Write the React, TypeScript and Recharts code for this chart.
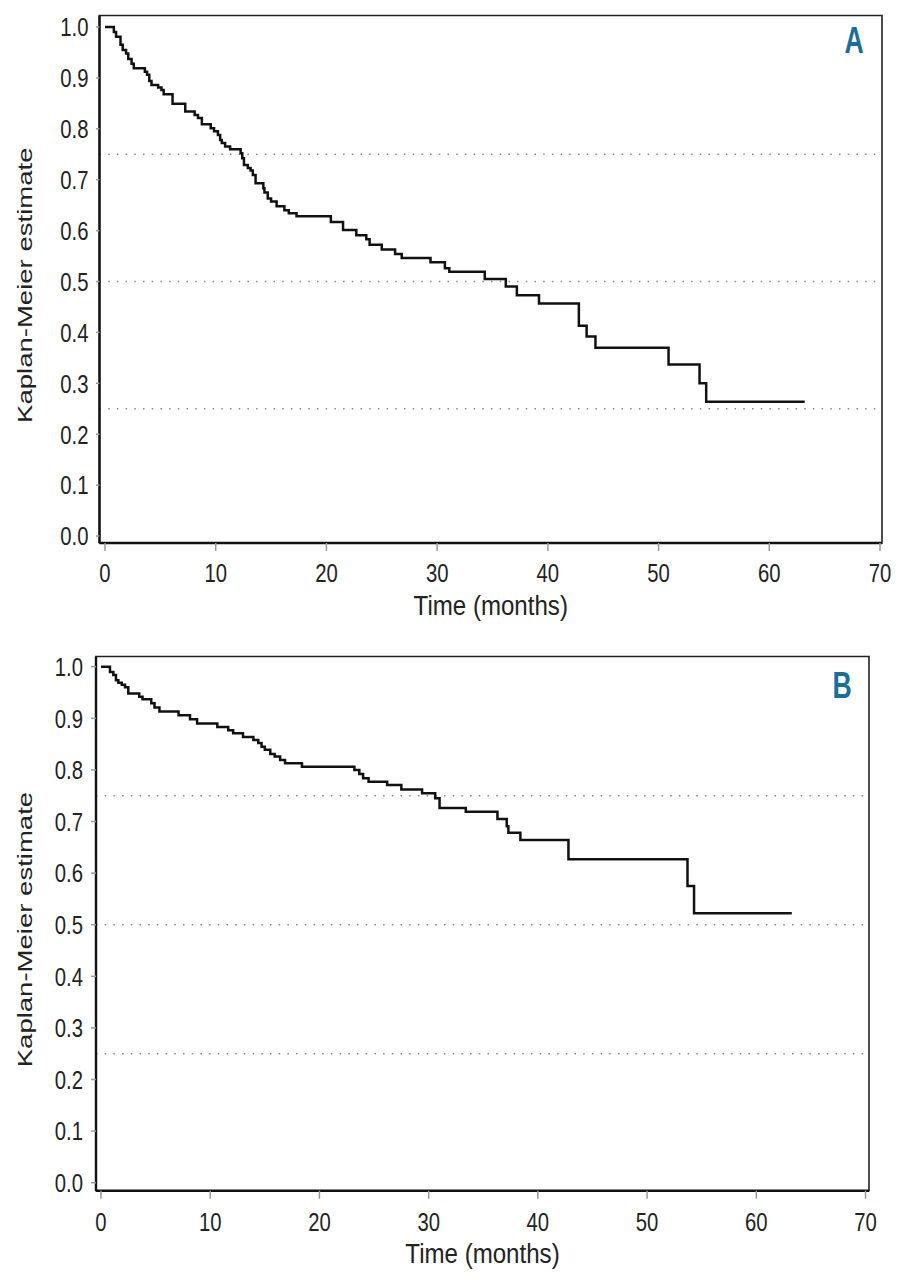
import React from "react";
import {
  LineChart,
  Line,
  XAxis,
  YAxis,
  ReferenceLine,
  ReferenceArea,
} from "recharts";

// ---------- data ----------
const timesA = [
  0, 0.8, 1.0, 1.4, 1.6, 1.9, 2.1, 2.4, 2.6, 3.6, 3.8, 4.0, 4.2, 4.8, 5.1, 5.3,
  6.1, 7.25, 8.1, 8.4, 8.75, 9.55, 9.85, 10.2, 10.4, 10.55, 10.85, 11.3, 12.25,
  12.4, 12.55, 12.9, 13.15, 13.35, 13.6, 14.3, 14.4, 14.7, 15.0, 15.5, 16.2,
  16.6, 17.3, 20.4, 21.5, 22.7, 23.6, 23.9, 25.0, 26.2, 26.8, 29.4, 30.7, 31.1,
  34.3, 36.2, 37.2, 39.2, 42.8, 43.5, 44.3, 50.9, 53.7, 54.3, 63.2,
];
const survA = [
  1.0, 0.99, 0.981, 0.965, 0.955, 0.948, 0.937, 0.928, 0.919, 0.912, 0.906,
  0.894, 0.886, 0.881, 0.876, 0.868, 0.849, 0.834, 0.827, 0.821, 0.809, 0.801,
  0.795, 0.788, 0.778, 0.772, 0.765, 0.76, 0.752, 0.742, 0.729, 0.723, 0.718,
  0.709, 0.693, 0.683, 0.675, 0.663, 0.657, 0.648, 0.64, 0.634, 0.628, 0.617,
  0.601, 0.591, 0.583, 0.572, 0.563, 0.554, 0.546, 0.538, 0.526, 0.519, 0.505,
  0.49, 0.473, 0.457, 0.413, 0.392, 0.37, 0.337, 0.3, 0.264, 0.264,
];

const timesB = [
  0, 0.82, 1.13, 1.37, 1.59, 1.9, 2.2, 2.5, 3.5, 3.8, 4.6, 4.9, 5.35, 7.1, 8.15,
  8.8, 10.65, 11.65, 12.1, 13.0, 13.95, 14.4, 14.7, 15.0, 15.5, 15.9, 16.4,
  16.85, 18.4, 23.2, 23.65, 24.0, 24.5, 26.2, 27.5, 29.4, 30.6, 31.0, 33.4,
  36.3, 37.15, 37.3, 38.4, 42.8, 53.7, 54.3, 63.25,
];
const survB = [
  1.0, 0.99, 0.984, 0.974, 0.969, 0.965, 0.96, 0.948, 0.942, 0.937, 0.929,
  0.921, 0.913, 0.906, 0.898, 0.89, 0.883, 0.877, 0.871, 0.864, 0.858, 0.852,
  0.845, 0.839, 0.831, 0.826, 0.819, 0.813, 0.806, 0.8, 0.792, 0.784, 0.777,
  0.771, 0.762, 0.755, 0.745, 0.726, 0.719, 0.705, 0.691, 0.678, 0.664, 0.627,
  0.575, 0.522, 0.522,
];

const xTicks = [0, 10, 20, 30, 40, 50, 60, 70];
const yTicks = [0, 0.1, 0.2, 0.3, 0.4, 0.5, 0.6, 0.7, 0.8, 0.9, 1.0];
const refLevels = [0.75, 0.5, 0.25];
const panelLetters = ["A", "B"];

const FONT = "'Liberation Sans', Arial, Helvetica, sans-serif";

type Cfg = {
  top: number;
  height: number;
  marginTop: number;
  marginRight: number;
  yAxisWidth: number;
  xAxisHeight: number;
  xDomain: [number, number];
  yDomain: [number, number];
  xTickMargin: number;
  yTickSize: number;
  yTickMargin: number;
  letterDx: number;
  letterDy: number;
};

const cfgA: Cfg = {
  top: 0,
  height: 630,
  marginTop: 15.5,
  marginRight: 21,
  yAxisWidth: 99.5,
  xAxisHeight: 87,
  xDomain: [-0.497, 70.18],
  yDomain: [-0.01375, 1.0226],
  xTickMargin: 12,
  yTickSize: 3.5,
  yTickMargin: 7.5,
  letterDx: 28,
  letterDy: 25,
};

const cfgB: Cfg = {
  top: 640,
  height: 640,
  marginTop: 16.5,
  marginRight: 34,
  yAxisWidth: 96,
  xAxisHeight: 89.3,
  xDomain: [-0.458, 70.32],
  yDomain: [-0.0155, 1.0198],
  xTickMargin: 14,
  yTickSize: 5,
  yTickMargin: 8,
  letterDx: 27.5,
  letterDy: 29,
};

const XTick = (props: any) => {
  const { x, y, payload } = props;
  return (
    <text
      transform={`translate(${x},${y}) scale(0.78,1)`}
      textAnchor="middle"
      dy="0.72em"
      fontFamily={FONT}
      fontSize={26}
      fill="#222"
    >
      {payload.value}
    </text>
  );
};

const YTick = (props: any) => {
  const { x, y, payload } = props;
  return (
    <text
      transform={`translate(${x},${y}) scale(0.78,1)`}
      textAnchor="end"
      dy="0.36em"
      fontFamily={FONT}
      fontSize={26}
      fill="#222"
    >
      {Number(payload.value).toFixed(1)}
    </text>
  );
};

const XTitle = (props: any) => {
  const vb = props.viewBox || {};
  const cx = vb.x + vb.width / 2;
  const cy = vb.y + 62;
  return (
    <text
      transform={`translate(${cx},${cy}) scale(0.86,1)`}
      textAnchor="middle"
      dy="0.36em"
      fontFamily={FONT}
      fontSize={28}
      fill="#222"
    >
      Time (months)
    </text>
  );
};

const YTitle = (props: any) => {
  const vb = props.viewBox || {};
  const cx = 25;
  const cy = vb.y + vb.height / 2 + 6;
  return (
    <text
      transform={`translate(${cx},${cy}) rotate(-90) scale(1.02,0.74)`}
      textAnchor="middle"
      dy="0.33em"
      fontFamily={FONT}
      fontSize={27}
      fill="#222"
    >
      Kaplan-Meier estimate
    </text>
  );
};

function Panel({
  times,
  surv,
  letter,
  cfg,
}: {
  times: number[];
  surv: number[];
  letter: string;
  cfg: Cfg;
}) {
  const data = times.map((t, i) => ({ t, s: surv[i] }));
  const width = 903;
  const frameRight = width - cfg.marginRight;
  return (
    <div
      style={{
        position: "absolute",
        left: 0,
        top: cfg.top,
        width,
        height: cfg.height,
      }}
    >
      <LineChart
        width={width}
        height={cfg.height}
        data={data}
        margin={{ top: cfg.marginTop, right: cfg.marginRight, left: 0, bottom: 0 }}
      >
        <XAxis
          dataKey="t"
          type="number"
          domain={cfg.xDomain}
          ticks={xTicks}
          interval={0}
          height={cfg.xAxisHeight}
          axisLine={{ stroke: "#111", strokeWidth: 2.4 }}
          tickLine={{ stroke: "#999", strokeWidth: 1.5 }}
          tickSize={8}
          tickMargin={cfg.xTickMargin}
          tick={<XTick />}
          allowDataOverflow
          label={<XTitle />}
        />
        <YAxis
          type="number"
          domain={cfg.yDomain}
          ticks={yTicks}
          interval={0}
          width={cfg.yAxisWidth}
          axisLine={{ stroke: "#111", strokeWidth: 2.4 }}
          tickLine={{ stroke: "#999", strokeWidth: 1.5 }}
          tickSize={cfg.yTickSize}
          tickMargin={cfg.yTickMargin}
          tick={<YTick />}
          allowDataOverflow
          label={<YTitle />}
        />
        <ReferenceArea
          x1={cfg.xDomain[0]}
          x2={cfg.xDomain[1]}
          y1={cfg.yDomain[0]}
          y2={cfg.yDomain[1]}
          fill="none"
          stroke="#222"
          strokeWidth={1.6}
          ifOverflow="visible"
        />
        {refLevels.map((v) => (
          <ReferenceLine
            key={v}
            y={v}
            stroke="#888"
            strokeWidth={1.5}
            strokeDasharray="1.5 7.2"
          />
        ))}
        <Line
          dataKey="s"
          type="stepAfter"
          stroke="#111"
          strokeWidth={2.5}
          dot={false}
          isAnimationActive={false}
        />
      </LineChart>
      <div
        style={{
          position: "absolute",
          left: frameRight - cfg.letterDx,
          top: cfg.marginTop + cfg.letterDy,
          transform: "translate(-50%,-50%) scaleX(0.74)",
          fontFamily: FONT,
          fontWeight: 700,
          fontSize: 36,
          lineHeight: 1,
          color: "#1a6e9a",
        }}
      >
        {letter}
      </div>
    </div>
  );
}

export default function App() {
  return (
    <div style={{ position: "absolute", left: 0, top: 0, width: 903, height: 1280, background: "#fff" }}>
      <Panel times={timesA} surv={survA} letter={panelLetters[0]} cfg={cfgA} />
      <Panel times={timesB} surv={survB} letter={panelLetters[1]} cfg={cfgB} />
    </div>
  );
}
